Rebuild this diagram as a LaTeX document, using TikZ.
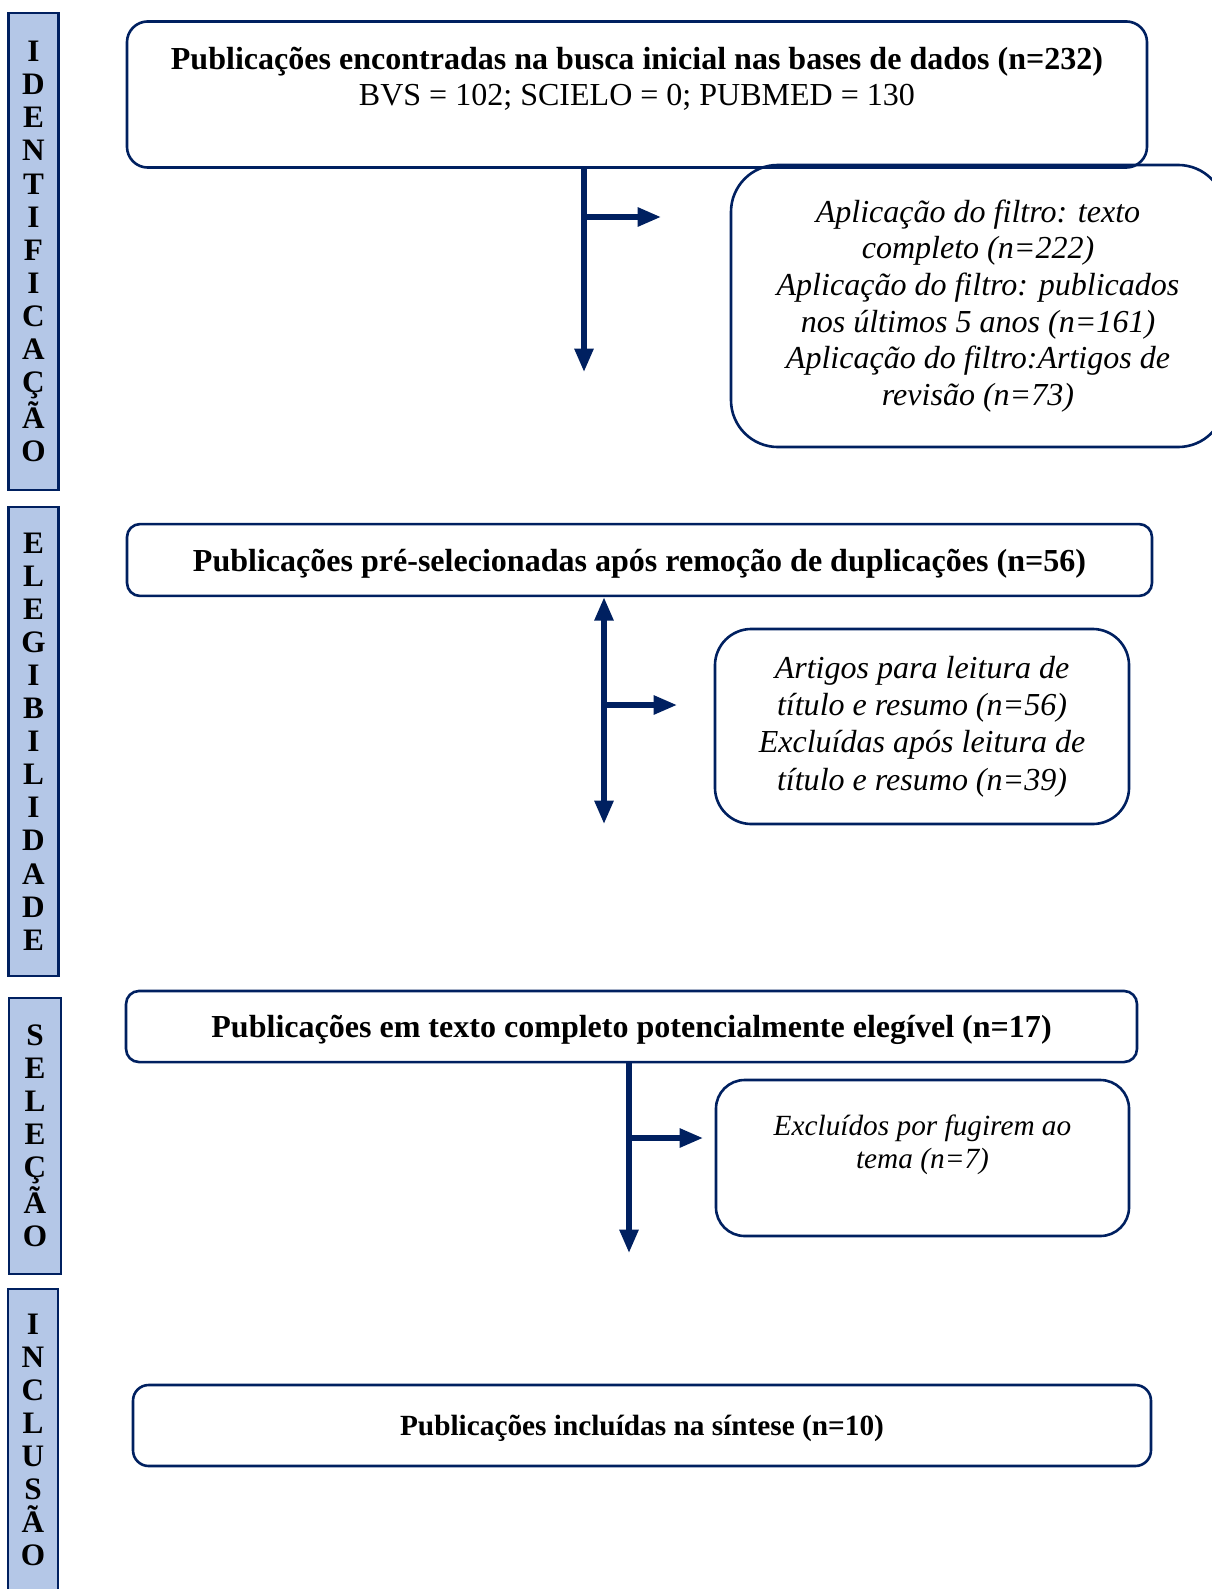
\documentclass[tikz,border=0pt]{standalone}
\usepackage{fontspec}
\setmainfont{Liberation Serif}
\usepackage{tikz}
\usetikzlibrary{arrows.meta,positioning}
\definecolor{Navy}{HTML}{002060}
\definecolor{SoftBlue}{HTML}{B4C7E7}

\begin{document}
\begin{tikzpicture}[x=0.384pt,y=-0.384pt,
  stage/.style={draw=Navy,line width=1pt,fill=SoftBlue,minimum width=19.2pt,inner sep=0pt,align=center,font=\bfseries\fontsize{12}{12.7}\selectfont},
  mainbox/.style={draw=Navy,line width=1pt,inner sep=0pt,align=center,font=\fontsize{12.3}{13.8}\selectfont},
  notebox/.style={draw=Navy,line width=1pt,inner sep=0pt,align=center,font=\itshape\fontsize{12.3}{14.1}\selectfont},
  flow/.style={Navy,line width=2pt,-{Triangle[length=9pt,width=7pt]}},
  flowboth/.style={Navy,line width=2pt,{Triangle[length=9pt,width=7pt]}-{Triangle[length=9pt,width=7pt]}}]
  \useasboundingbox (0,0) rectangle (1211,1589);
  \node[stage,minimum height=183.2pt] (identif) at (33.5,251.5) {I\\D\\E\\N\\T\\I\\F\\I\\C\\A\\Ç\\Ã\\O};
  \node[stage,minimum height=180.1pt] (elegib) at (33.5,741.5) {E\\L\\E\\G\\I\\B\\I\\L\\I\\D\\A\\D\\E};
  \node[stage,minimum height=106pt,minimum width=20pt] (selec) at (35,1136) {S\\E\\L\\E\\Ç\\Ã\\O};
  \node[stage,minimum height=116pt] (inclus) at (33,1440) {I\\N\\C\\L\\U\\S\\Ã\\O};
  \node[mainbox,rounded corners=8pt,minimum width=391.7pt,minimum height=56.1pt] (busca) at (637,94.5)
  {\textbf{Publicações encontradas na busca inicial nas bases de dados (n=232)}\\BVS = 102; SCIELO = 0; PUBMED = 130\\~};
  \node[notebox,rounded corners=18pt,minimum width=189.7pt,minimum height=108.3pt] (filtros) at (978,306)
  {Aplicação do filtro: texto\\completo (n=222)\\Aplicação do filtro: publicados\\nos últimos 5 anos (n=161)\\Aplicação do filtro:Artigos de\\revisão (n=73)};
  \node[mainbox,rounded corners=5pt,minimum width=393.6pt,minimum height=27.6pt,text depth=0pt,font=\bfseries\fontsize{12.3}{13.8}\selectfont] (presel) at (639.5,560)
  {Publicações pré-selecionadas após remoção de duplicações (n=56)};
  \node[notebox,rounded corners=14pt,minimum width=159pt,minimum height=74.9pt,font=\itshape\fontsize{12.3}{14.3}\selectfont] (leitura) at (922,726.5)
  {Artigos para leitura de\\título e resumo (n=56)\\Excluídas após leitura de\\título e resumo (n=39)};
  \node[mainbox,rounded corners=5pt,minimum width=388.2pt,minimum height=27.3pt,text depth=0pt,font=\bfseries\fontsize{12.3}{13.8}\selectfont] (elegivel) at (631.5,1026.5)
  {Publicações em texto completo potencialmente elegível (n=17)};
  \node[notebox,rounded corners=11pt,minimum width=158.6pt,minimum height=59.9pt,font=\itshape\fontsize{11.25}{12.7}\selectfont] (tema) at (922.5,1158)
  {Excluídos por fugirem ao\\tema (n=7)\\~};
  \node[mainbox,rounded corners=6pt,minimum width=390.9pt,minimum height=31.1pt,text depth=0pt,font=\bfseries\fontsize{11.25}{12.7}\selectfont] (sintese) at (642,1425.5)
  {Publicações incluídas na síntese (n=10)};
  \coordinate (down1) at (584,372);
  \coordinate (side1) at (661,217);
  \coordinate (down2) at (604,824);
  \coordinate (side2) at (677,705);
  \coordinate (down3) at (629,1253);
  \coordinate (side3) at (703,1138);
  \draw[flow] (busca.south -| down1) -- (down1);
  \draw[flow] (side1 -| down1) -- (side1);
  \draw[flowboth] (presel.south -| down2) -- (down2);
  \draw[flow] (side2 -| down2) -- (side2);
  \draw[flow] (elegivel.south -| down3) -- (down3);
  \draw[flow] (side3 -| down3) -- (side3);
\end{tikzpicture}
\end{document}
